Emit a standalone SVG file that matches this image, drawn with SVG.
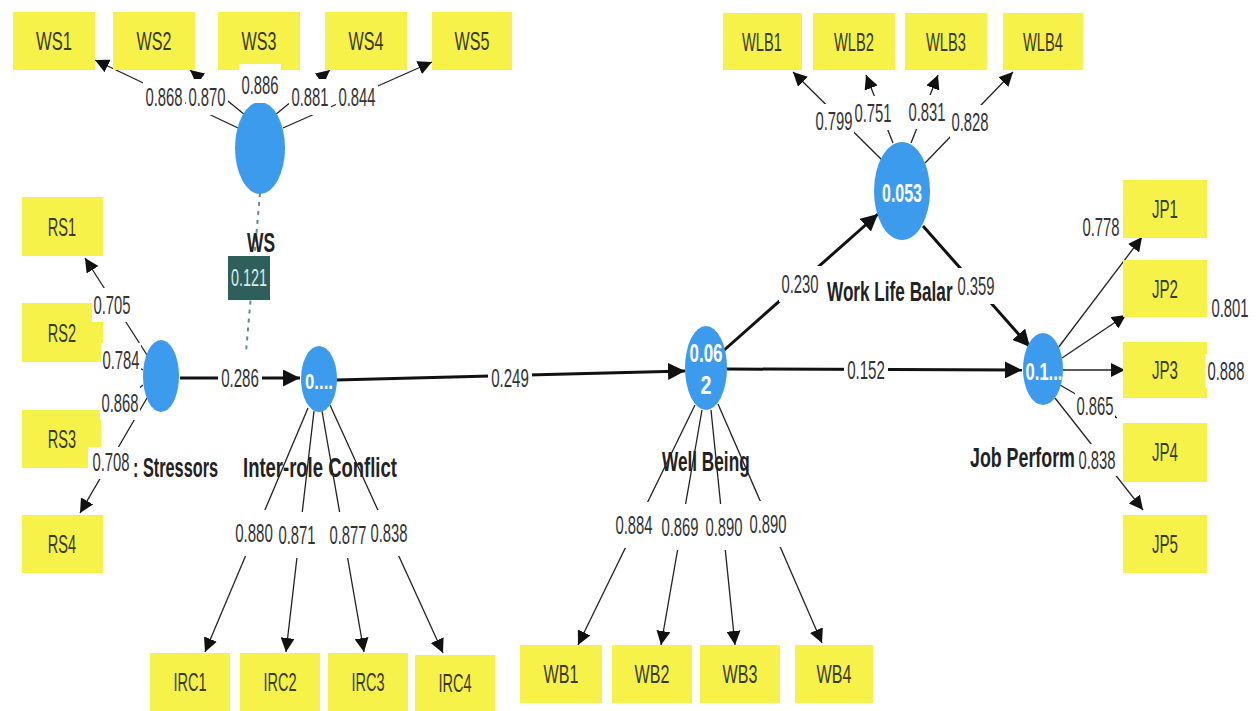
<svg xmlns="http://www.w3.org/2000/svg" width="1259" height="711" viewBox="0 0 1259 711">
<style>
.box{fill:#f6f24a}
.bt{font-family:"Liberation Sans",sans-serif;font-size:26px;fill:#3a3a2a;text-anchor:middle;dominant-baseline:central}
.lv{fill:#3d9bee}
.ct{font-family:"Liberation Sans",sans-serif;font-weight:bold;fill:#fff;text-anchor:middle;dominant-baseline:central}
.nm{font-family:"Liberation Sans",sans-serif;font-weight:bold;font-size:27px;fill:#222}
.ld{stroke:#222;stroke-width:1.3;fill:none;marker-end:url(#ahs)}
.ln{stroke:#222;stroke-width:1.3;fill:none}
.st{stroke:#111;stroke-width:3;fill:none;marker-end:url(#ahb)}
.bg{fill:#fff}
.lb{font-family:"Liberation Sans",sans-serif;font-size:26px;fill:#333;text-anchor:middle;dominant-baseline:central}
</style>
<defs>
<marker id="ahs" viewBox="0 0 10 10" refX="10" refY="5" markerWidth="14" markerHeight="14" markerUnits="userSpaceOnUse" orient="auto"><path d="M0,0 L10,5 L0,10 z" fill="#111"/></marker>
<marker id="ahb" viewBox="0 0 10 10" refX="10" refY="5" markerWidth="17" markerHeight="17" markerUnits="userSpaceOnUse" orient="auto"><path d="M0,0 L10,5 L0,10 z" fill="#111"/></marker>
</defs>
<rect width="1259" height="711" fill="#fff"/>
<g id="connectors">
<line class="ld" x1="238" y1="128" x2="95" y2="60"/>
<line class="ld" x1="245" y1="115" x2="190" y2="70"/>
<line class="ld" x1="260" y1="107" x2="260" y2="64"/>
<line class="ld" x1="275" y1="115" x2="330" y2="70"/>
<line class="ld" x1="283" y1="128" x2="432" y2="62"/>
<line x1="260" y1="193" x2="246" y2="352" stroke="#5f8f8c" stroke-width="2" stroke-dasharray="4,5"/>
<line class="ld" x1="147" y1="355" x2="85" y2="258"/>
<line class="ln" x1="143" y1="370" x2="118" y2="355"/>
<line class="ln" x1="143" y1="385" x2="118" y2="405"/>
<line class="ld" x1="147" y1="398" x2="80" y2="513"/>
<line class="ld" x1="308" y1="408" x2="205" y2="652"/>
<line class="ld" x1="314" y1="411" x2="286" y2="652"/>
<line class="ld" x1="322" y1="411" x2="364" y2="652"/>
<line class="ld" x1="330" y1="405" x2="443" y2="653"/>
<line class="ld" x1="695" y1="405" x2="578" y2="645"/>
<line class="ld" x1="702" y1="410" x2="661" y2="645"/>
<line class="ld" x1="711" y1="410" x2="735" y2="645"/>
<line class="ld" x1="718" y1="404" x2="822" y2="643"/>
<line class="ld" x1="882" y1="160" x2="793" y2="72"/>
<line class="ld" x1="893" y1="143" x2="866" y2="75"/>
<line class="ld" x1="911" y1="143" x2="938" y2="75"/>
<line class="ld" x1="925" y1="163" x2="1013" y2="72"/>
<line class="ld" x1="1058" y1="348" x2="1142" y2="237"/>
<line class="ld" x1="1062" y1="358" x2="1126" y2="315"/>
<line class="ld" x1="1063" y1="370" x2="1125" y2="370"/>
<line class="ld" x1="1060" y1="385" x2="1117" y2="418"/>
<line class="ld" x1="1055" y1="398" x2="1143" y2="510"/>
<line class="st" x1="180" y1="378" x2="300" y2="378"/>
<line class="st" x1="336" y1="380" x2="685" y2="371"/>
<line class="st" x1="727" y1="369" x2="1022" y2="370"/>
<line class="st" x1="722" y1="352" x2="878" y2="214"/>
<line class="st" x1="923" y1="226" x2="1030" y2="347"/>
</g>
<g id="node-WS1"><rect class="box" x="13" y="12" width="82" height="58"/><text class="bt" transform="translate(54,41) scale(0.64,1)">WS1</text></g>
<g id="node-WS2"><rect class="box" x="113" y="12" width="82" height="58"/><text class="bt" transform="translate(154,41) scale(0.62,1)">WS2</text></g>
<g id="node-WS3"><rect class="box" x="218" y="12" width="82" height="58"/><text class="bt" transform="translate(259,41) scale(0.62,1)">WS3</text></g>
<g id="node-WS4"><rect class="box" x="325" y="12" width="82" height="58"/><text class="bt" transform="translate(366,41) scale(0.62,1)">WS4</text></g>
<g id="node-WS5"><rect class="box" x="432" y="12" width="80" height="58"/><text class="bt" transform="translate(472,41) scale(0.62,1)">WS5</text></g>
<g id="node-RS1"><rect class="box" x="22" y="197" width="81" height="59"/><text class="bt" transform="translate(62,227) scale(0.56,1)">RS1</text></g>
<g id="node-RS2"><rect class="box" x="22" y="303" width="81" height="59"/><text class="bt" transform="translate(62,333) scale(0.56,1)">RS2</text></g>
<g id="node-RS3"><rect class="box" x="22" y="410" width="79" height="58"/><text class="bt" transform="translate(62,439) scale(0.56,1)">RS3</text></g>
<g id="node-RS4"><rect class="box" x="22" y="515" width="81" height="58"/><text class="bt" transform="translate(62,544) scale(0.56,1)">RS4</text></g>
<g id="node-IRC1"><rect class="box" x="150" y="653" width="80" height="58"/><text class="bt" transform="translate(190,682) scale(0.56,1)">IRC1</text></g>
<g id="node-IRC2"><rect class="box" x="240" y="653" width="80" height="58"/><text class="bt" transform="translate(280,682) scale(0.56,1)">IRC2</text></g>
<g id="node-IRC3"><rect class="box" x="328" y="653" width="80" height="58"/><text class="bt" transform="translate(368,682) scale(0.56,1)">IRC3</text></g>
<g id="node-IRC4"><rect class="box" x="415" y="655" width="80" height="56"/><text class="bt" transform="translate(455,683) scale(0.56,1)">IRC4</text></g>
<g id="node-WB1"><rect class="box" x="520" y="645" width="82" height="58"/><text class="bt" transform="translate(561,674) scale(0.62,1)">WB1</text></g>
<g id="node-WB2"><rect class="box" x="612" y="645" width="80" height="58"/><text class="bt" transform="translate(652,674) scale(0.62,1)">WB2</text></g>
<g id="node-WB3"><rect class="box" x="700" y="645" width="80" height="58"/><text class="bt" transform="translate(740,674) scale(0.62,1)">WB3</text></g>
<g id="node-WB4"><rect class="box" x="795" y="645" width="78" height="58"/><text class="bt" transform="translate(834,674) scale(0.62,1)">WB4</text></g>
<g id="node-WLB1"><rect class="box" x="723" y="13" width="79" height="57"/><text class="bt" transform="translate(762,42) scale(0.565,1)">WLB1</text></g>
<g id="node-WLB2"><rect class="box" x="813" y="13" width="82" height="57"/><text class="bt" transform="translate(854,42) scale(0.565,1)">WLB2</text></g>
<g id="node-WLB3"><rect class="box" x="905" y="13" width="82" height="57"/><text class="bt" transform="translate(946,42) scale(0.565,1)">WLB3</text></g>
<g id="node-WLB4"><rect class="box" x="1003" y="13" width="80" height="57"/><text class="bt" transform="translate(1043,42) scale(0.565,1)">WLB4</text></g>
<g id="node-JP1"><rect class="box" x="1123" y="180" width="84" height="58"/><text class="bt" transform="translate(1165,209) scale(0.58,1)">JP1</text></g>
<g id="node-JP2"><rect class="box" x="1123" y="260" width="84" height="57"/><text class="bt" transform="translate(1165,289) scale(0.58,1)">JP2</text></g>
<g id="node-JP3"><rect class="box" x="1123" y="342" width="84" height="56"/><text class="bt" transform="translate(1165,370) scale(0.58,1)">JP3</text></g>
<g id="node-JP4"><rect class="box" x="1123" y="423" width="84" height="59"/><text class="bt" transform="translate(1165,452) scale(0.58,1)">JP4</text></g>
<g id="node-JP5"><rect class="box" x="1123" y="515" width="84" height="58"/><text class="bt" transform="translate(1165,544) scale(0.58,1)">JP5</text></g>
<g id="node-WS"><ellipse class="lv" cx="260" cy="148" rx="25" ry="46"/><text class="nm" text-anchor="middle" transform="translate(261,252) scale(0.644,1)">WS</text></g>
<g id="node-moderator"><rect x="228" y="256" width="42" height="44" fill="#2e5f5a"/><text font-family="Liberation Sans,sans-serif" font-size="24" fill="#d9ecea" text-anchor="middle" dominant-baseline="central" transform="translate(249,278) scale(0.6,1)">0.121</text></g>
<g id="node-RoleStressors"><ellipse class="lv" cx="161" cy="376" rx="18" ry="36"/><text class="nm" transform="translate(133,477) scale(0.603,1)">: Stressors</text></g>
<g id="node-InterRoleConflict"><ellipse class="lv" cx="319" cy="379" rx="18" ry="33"/><text class="ct" font-size="22" transform="translate(319,381) scale(0.76,1)">0....</text><text class="nm" transform="translate(243,477) scale(0.684,1)">Inter-role Conflict</text></g>
<g id="node-WellBeing"><ellipse class="lv" cx="706" cy="368" rx="21" ry="42"/><text class="ct" font-size="25" transform="translate(706,354) scale(0.68,1)">0.06</text><text class="ct" font-size="25" transform="translate(706,386) scale(0.79,1)">2</text><text class="nm" transform="translate(662,471) scale(0.638,1)">Well Being</text></g>
<g id="node-WorkLifeBalance"><ellipse class="lv" cx="902" cy="191" rx="28" ry="49"/><text class="ct" font-size="25" transform="translate(902,193) scale(0.64,1)">0.053</text><text class="nm" transform="translate(827,301) scale(0.636,1)">Work Life Balar</text></g>
<g id="node-JobPerformance"><ellipse class="lv" cx="1043" cy="369" rx="20" ry="36"/><text class="ct" font-size="24" transform="translate(1044,371) scale(0.69,1)">0.1...</text><text class="nm" transform="translate(970,467) scale(0.66,1)">Job Perform</text></g>
<g id="connector-labels">
<rect class="bg" x="143" y="79" width="42" height="36"/><text class="lb" transform="translate(164,97) scale(0.57,1)">0.868</text>
<rect class="bg" x="186" y="79" width="42" height="36"/><text class="lb" transform="translate(207,97) scale(0.57,1)">0.870</text>
<rect class="bg" x="239" y="64" width="42" height="39"/><text class="lb" transform="translate(260,85) scale(0.57,1)">0.886</text>
<rect class="bg" x="289" y="79" width="42" height="36"/><text class="lb" transform="translate(310,97) scale(0.57,1)">0.881</text>
<rect class="bg" x="336" y="79" width="42" height="36"/><text class="lb" transform="translate(357,97) scale(0.57,1)">0.844</text>
<rect class="bg" x="92" y="288" width="40" height="34"/><text class="lb" transform="translate(112,305) scale(0.57,1)">0.705</text>
<rect class="bg" x="101" y="343" width="40" height="34"/><text class="lb" transform="translate(121,360) scale(0.57,1)">0.784</text>
<rect class="bg" x="100" y="386" width="40" height="34"/><text class="lb" transform="translate(120,403) scale(0.57,1)">0.868</text>
<rect class="bg" x="88" y="447" width="44" height="32"/><text class="lb" transform="translate(111,462) scale(0.57,1)">0.708</text>
<rect class="bg" x="218" y="362" width="44" height="32"/><text class="lb" transform="translate(240,378) scale(0.58,1)">0.286</text>
<rect class="bg" x="488" y="362" width="44" height="32"/><text class="lb" transform="translate(510,378) scale(0.58,1)">0.249</text>
<rect class="bg" x="844" y="354" width="44" height="32"/><text class="lb" transform="translate(866,370) scale(0.58,1)">0.152</text>
<rect class="bg" x="779" y="266" width="42" height="36"/><text class="lb" transform="translate(800,284) scale(0.57,1)">0.230</text>
<rect class="bg" x="955" y="268" width="42" height="36"/><text class="lb" transform="translate(976,286) scale(0.57,1)">0.359</text>
<rect class="bg" x="232" y="510" width="44" height="46"/><text class="lb" transform="translate(254,533) scale(0.58,1)">0.880</text>
<rect class="bg" x="276" y="512" width="42" height="46"/><text class="lb" transform="translate(297,535) scale(0.57,1)">0.871</text>
<rect class="bg" x="328" y="512" width="40" height="46"/><text class="lb" transform="translate(348,535) scale(0.57,1)">0.877</text>
<rect class="bg" x="369" y="510" width="40" height="46"/><text class="lb" transform="translate(389,533) scale(0.57,1)">0.838</text>
<rect class="bg" x="613" y="502" width="42" height="46"/><text class="lb" transform="translate(634,525) scale(0.57,1)">0.884</text>
<rect class="bg" x="659" y="504" width="42" height="46"/><text class="lb" transform="translate(680,527) scale(0.57,1)">0.869</text>
<rect class="bg" x="703" y="504" width="42" height="46"/><text class="lb" transform="translate(724,527) scale(0.57,1)">0.890</text>
<rect class="bg" x="747" y="501" width="42" height="46"/><text class="lb" transform="translate(768,524) scale(0.57,1)">0.890</text>
<rect class="bg" x="814" y="104" width="40" height="34"/><text class="lb" transform="translate(834,121) scale(0.57,1)">0.799</text>
<rect class="bg" x="854" y="96" width="38" height="34"/><text class="lb" transform="translate(873,113) scale(0.57,1)">0.751</text>
<rect class="bg" x="908" y="95" width="38" height="34"/><text class="lb" transform="translate(927,112) scale(0.57,1)">0.831</text>
<rect class="bg" x="950" y="105" width="40" height="34"/><text class="lb" transform="translate(970,122) scale(0.57,1)">0.828</text>
<rect class="bg" x="1080" y="210" width="42" height="34"/><text class="lb" transform="translate(1101,227) scale(0.57,1)">0.778</text>
<rect class="bg" x="1209" y="291" width="42" height="34"/><text class="lb" transform="translate(1230,308) scale(0.57,1)">0.801</text>
<rect class="bg" x="1205" y="354" width="42" height="34"/><text class="lb" transform="translate(1226,371) scale(0.57,1)">0.888</text>
<rect class="bg" x="1075" y="392" width="40" height="28"/><text class="lb" transform="translate(1095,406) scale(0.57,1)">0.865</text>
<rect class="bg" x="1077" y="444" width="40" height="32"/><text class="lb" transform="translate(1097,460) scale(0.57,1)">0.838</text>
</g>
</svg>
